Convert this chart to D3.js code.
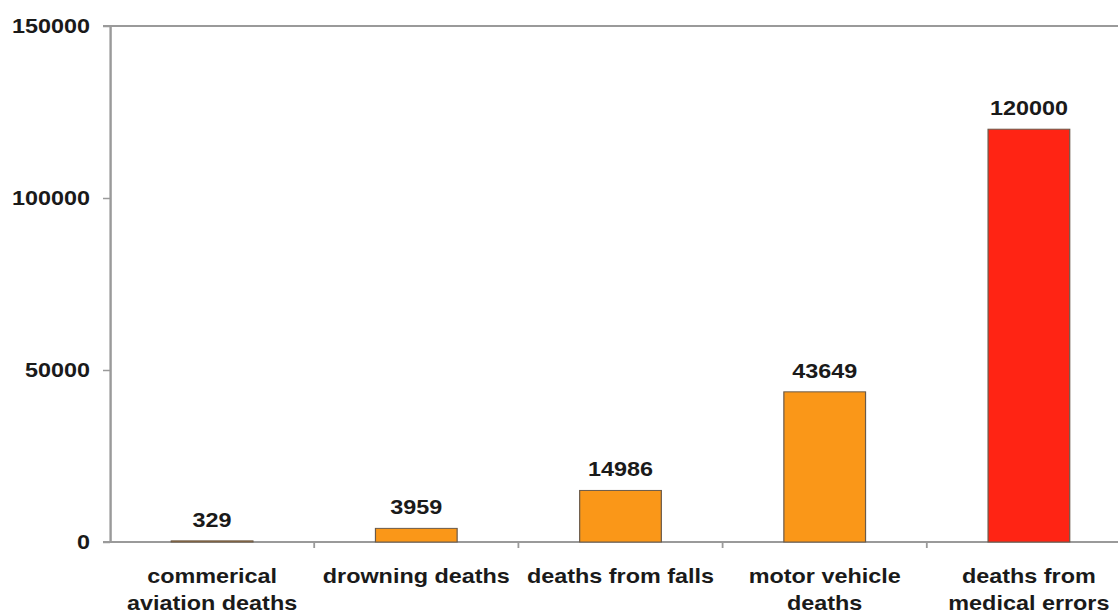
<!DOCTYPE html>
<html>
<head>
<meta charset="utf-8">
<script src="https://cdn.jsdelivr.net/npm/d3@7"></script>
<style>
  html, body { margin: 0; padding: 0; background: #fff; }
  svg { display: block; }
  text { font-family: "Liberation Sans", Arial, sans-serif; font-weight: bold; fill: #1a1a1a; }
</style>
</head>
<body>
<script>
// ---- data ----
const categories = ["commerical aviation deaths", "drowning deaths", "deaths from falls", "motor vehicle deaths", "deaths from medical errors"];
const categoryLines = [["commerical", "aviation deaths"], ["drowning deaths"], ["deaths from falls"], ["motor vehicle", "deaths"], ["deaths from", "medical errors"]];
const values = [329, 3959, 14986, 43649, 120000];
const barColors = ["#FA9718", "#FA9718", "#FA9718", "#FA9718", "#FF2414"];
const yTicks = [0, 50000, 100000, 150000];

// ---- layout ----
const W = 1118, H = 615;
const S = 1.2;               // horizontal stretch of the reference
const VW = W / S;
const svg = d3.select("body").append("svg")
  .attr("width", W).attr("height", H)
  .attr("viewBox", `0 0 ${VW} ${H}`)
  .attr("preserveAspectRatio", "none");

const y = d3.scaleLinear().domain([0, 150000]).range([542, 26]);
const x = d3.scaleBand().domain(categories)
  .range([110 / S, 1131 / S]).paddingInner(0.6).paddingOuter(0.3);

const axisColor = "#9a9a9a";
const fs = 19.5;

// top border & baseline
svg.append("line").attr("x1", 103 / S).attr("x2", VW).attr("y1", y(150000)).attr("y2", y(150000))
  .attr("stroke", axisColor).attr("stroke-width", 2);
svg.append("line").attr("x1", 103 / S).attr("x2", VW).attr("y1", y(0)).attr("y2", y(0))
  .attr("stroke", axisColor).attr("stroke-width", 2);

// y axis
const yAxis = d3.axisLeft(y).tickValues(yTicks).tickFormat(d3.format("d"))
  .tickSize(7 / S).tickSizeOuter(0).tickPadding(13 / S);
const gy = svg.append("g").attr("transform", `translate(${110 / S},0)`).call(yAxis);
gy.select(".domain").attr("stroke", axisColor).attr("stroke-width", 2);
gy.selectAll(".tick line").attr("stroke", axisColor).attr("stroke-width", 1.5);
gy.selectAll(".tick text").attr("font-size", fs).attr("fill", "#1a1a1a")
  .attr("font-family", '"Liberation Sans", Arial, sans-serif').attr("font-weight", "bold");

// x category boundary ticks
const step = x.step();
categories.forEach((c, i) => {
  if (i === 0) return;
  const bx = x(c) - step * 0.3;
  svg.append("line").attr("x1", bx).attr("x2", bx).attr("y1", y(0)).attr("y2", y(0) + 6)
    .attr("stroke", axisColor).attr("stroke-width", 1.5);
});

// bars
svg.selectAll("rect.bar").data(values).enter().append("rect")
  .attr("class", "bar")
  .attr("x", (d, i) => x(categories[i]))
  .attr("width", x.bandwidth())
  .attr("y", d => y(d))
  .attr("height", d => y(0) - y(d))
  .attr("fill", (d, i) => barColors[i])
  .attr("stroke", "#6a5a4a").attr("stroke-width", 1);

// value labels
svg.selectAll("text.val").data(values).enter().append("text")
  .attr("class", "val")
  .attr("x", (d, i) => x(categories[i]) + x.bandwidth() / 2)
  .attr("y", d => y(d) - 14)
  .attr("text-anchor", "middle")
  .attr("font-size", fs)
  .text(d => d);

// category labels
categories.forEach((c, i) => {
  const t = svg.append("text")
    .attr("x", x(c) + x.bandwidth() / 2)
    .attr("y", 583)
    .attr("text-anchor", "middle")
    .attr("font-size", fs);
  categoryLines[i].forEach((ln, j) => {
    t.append("tspan").attr("x", x(c) + x.bandwidth() / 2).attr("y", 583 + j * 27).text(ln);
  });
});
</script>
</body>
</html>
